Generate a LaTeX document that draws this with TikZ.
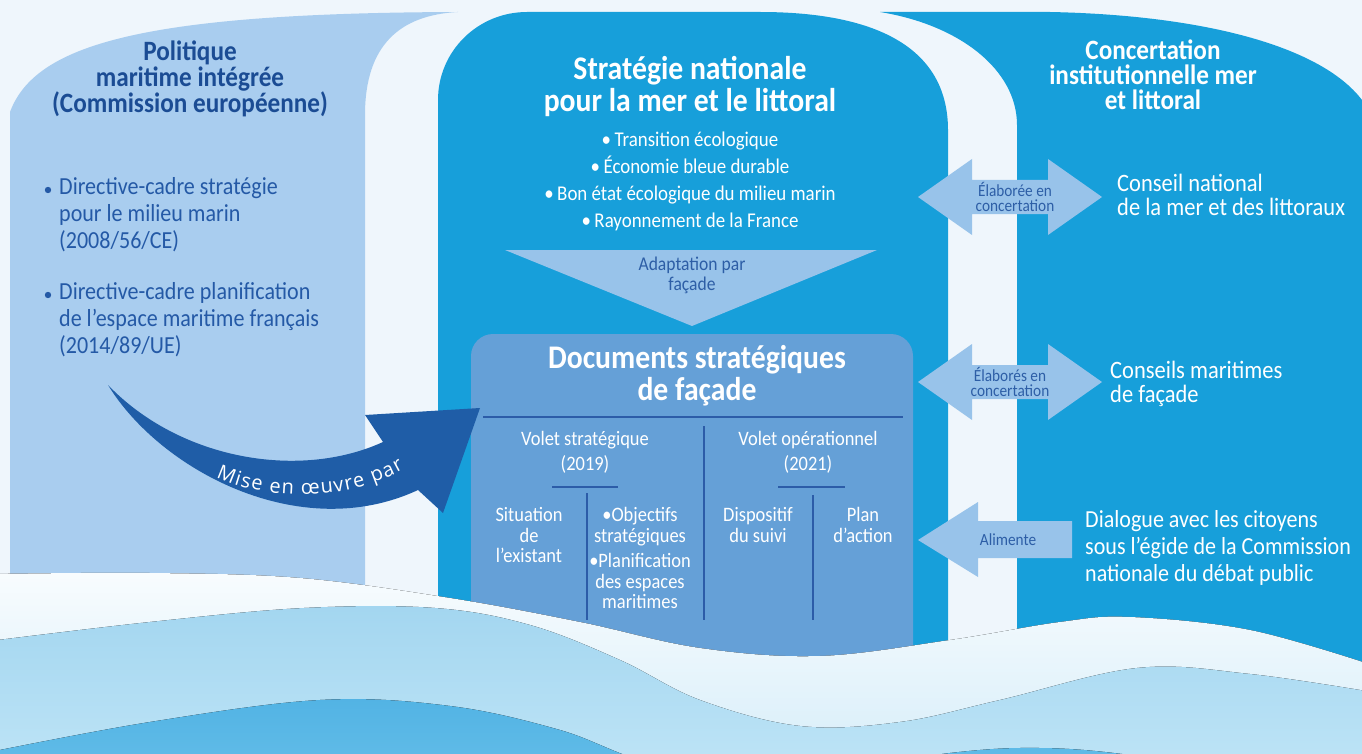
\documentclass[tikz,border=0pt]{standalone}
\usepackage{fontspec}
\setmainfont{Carlito}[FakeStretch=0.9]
\newfontfamily\arcfont{Open Sans}
\usetikzlibrary{decorations.text}
\definecolor{bg}{HTML}{EFF6FC}
\definecolor{leftpanel}{HTML}{A9CDEF}
\definecolor{midpanel}{HTML}{179FDA}
\definecolor{docbox}{HTML}{65A0D7}
\definecolor{lightarrow}{HTML}{98C3EA}
\definecolor{darkarrow}{HTML}{1F5DA7}
\definecolor{darktext}{HTML}{1B4C94}
\definecolor{bullettext}{HTML}{2459A6}
\definecolor{arrowtext}{HTML}{2D5EA6}
\definecolor{linec}{HTML}{2C5CA8}
\definecolor{waveAtop}{HTML}{F8FCFE}
\definecolor{waveAbot}{HTML}{D6EDF9}
\definecolor{waveBtop}{HTML}{A3D6F0}
\definecolor{waveBbot}{HTML}{BEE4F6}
\definecolor{waveCtop}{HTML}{52B3E4}
\definecolor{waveCbot}{HTML}{66BFE9}
\tikzset{
  lefttitle/.style={text=darktext, font=\bfseries\fontsize{28}{26}\selectfont, align=center, inner sep=0pt},
  leftitem/.style={text=bullettext, font=\fontsize{24.5}{27}\selectfont, align=left, inner sep=0pt, anchor=west},
  whitetitle/.style={text=white, font=\bfseries\fontsize{33}{32}\selectfont, align=center, inner sep=0pt},
  righttitle/.style={text=white, font=\bfseries\fontsize{28}{25}\selectfont, align=center, inner sep=0pt},
  midlist/.style={text=white, font=\fontsize{21}{27}\selectfont, align=center, inner sep=0pt},
  rightitem/.style={text=white, font=\fontsize{25}{24}\selectfont, align=left, inner sep=0pt, anchor=west},
  arrowlabel/.style={text=arrowtext, font=\fontsize{17}{15.5}\selectfont, align=center, inner sep=0pt},
  adaptlabel/.style={text=arrowtext, font=\fontsize{19.5}{20}\selectfont, align=center, inner sep=0pt},
  voletlabel/.style={text=white, font=\fontsize{20.5}{25}\selectfont, align=center, inner sep=0pt},
  celllabel/.style={text=white, font=\fontsize{20.5}{20.5}\selectfont, align=center, inner sep=0pt},
  sepline/.style={draw=linec, line width=1.5pt},
  shapefill/.style={fill=lightarrow}
}
\begin{document}
\begin{tikzpicture}[x=1pt,y=-1pt]
\useasboundingbox (0,0) rectangle (1362,754);
\begin{scope}
\clip (0,0) rectangle (1362,754);
\fill[bg] (0,0) rectangle (1362,754);
% left panel
\fill[leftpanel] (10,770) -- (10,112) .. controls (35,45) and (140,13) .. (458,12)
  .. controls (400,15) and (365,45) .. (365,115) -- (365,770) -- cycle;
% middle panel
\fill[midpanel] (438,770) -- (438,100) .. controls (438,51) and (478,12) .. (527,12)
  -- (760,12) .. controls (880,12) and (948,50) .. (948,130) -- (948,770) -- cycle;
% right panel
\fill[midpanel] (880,12) -- (1050,12) .. controls (1200,15) and (1320,45) .. (1362,100)
  -- (1372,100) -- (1372,770) -- (1017,770) -- (1017,125) .. controls (1017,70) and (960,25) .. (880,12) -- cycle;
% documents box
\fill[docbox, rounded corners=22pt] (471,334) rectangle (913,780);
% triangle
\fill[shapefill] (505,250) -- (877,250) -- (692,326) -- cycle;
% double arrows
\fill[shapefill] (918,197) -- (972,159) -- (972,180) -- (1048,180) -- (1048,159) -- (1102,197)
  -- (1048,235) -- (1048,214) -- (972,214) -- (972,235) -- cycle;
\fill[shapefill] (918,382) -- (972,344) -- (972,365) -- (1048,365) -- (1048,344) -- (1102,382)
  -- (1048,420) -- (1048,399) -- (972,399) -- (972,420) -- cycle;
\fill[shapefill] (918,540) -- (978,502) -- (978,521) -- (1072,521) -- (1072,558) -- (978,558) -- (978,577) -- cycle;
% separator lines in documents box
\coordinate (h1a) at (483,417); \coordinate (h1b) at (903,417);
\coordinate (v1a) at (704,426); \coordinate (v1b) at (704,620);
\coordinate (h2a) at (552,487); \coordinate (h2b) at (618,487);
\coordinate (h3a) at (778,487); \coordinate (h3b) at (845,487);
\coordinate (v2a) at (587,493); \coordinate (v2b) at (587,620);
\coordinate (v3a) at (813,495); \coordinate (v3b) at (813,620);
\draw[sepline] (h1a) -- (h1b);
\draw[sepline] (v1a) -- (v1b);
\draw[sepline] (h2a) -- (h2b);
\draw[sepline] (h3a) -- (h3b);
\draw[sepline] (v2a) -- (v2b);
\draw[sepline] (v3a) -- (v3b);
% curved arrow
\fill[darkarrow] (108,385) .. controls (160,470) and (300,545) .. (418,490) -- (443,513) -- (480,408)
  -- (365,415) -- (383,442) .. controls (300,480) and (180,460) .. cycle;
\path[decorate, decoration={text along path, text align={fit to path}, text color=white,
  text={|\arcfont\fontsize{20}{20}\selectfont|Mise en œuvre par}}]
  (216,477) .. controls (262,499) and (342,504) .. (404,469);
% waves
\fill[top color=waveAtop, bottom color=waveAbot] plot[smooth, tension=0.6] coordinates
  {(-10,574) (150,573) (300,578) (450,598) (580,622) (700,648) (820,656) (950,640) (1060,622) (1130,617) (1250,630) (1372,665)}
  -- (1372,770) -- (-10,770) -- cycle;
\fill[top color=waveBtop, bottom color=waveBbot] plot[smooth, tension=0.6] coordinates
  {(-10,641) (150,622) (304,608) (435,608) (530,625) (620,660) (700,700) (800,726) (900,722) (1000,700) (1137,668) (1250,674) (1372,692)}
  -- (1372,770) -- (-10,770) -- cycle;
\fill[top color=waveCtop, bottom color=waveCbot] plot[smooth, tension=0.6] coordinates
  {(-10,752) (150,722) (320,700) (450,706) (560,730) (660,765) (800,775) (950,753) (1040,748) (1130,755) (1250,775)}
  -- (1250,790) -- (-10,790) -- cycle;
\end{scope}
% texts
\node[lefttitle] (pmi) at (190,79) {Politique\\maritime intégrée\\(Commission européenne)};
\fill[bullettext] (48,190) circle (3.2);
\fill[bullettext] (48,295) circle (3.2);
\node[leftitem] (dcsmm) at (59,215) {Directive-cadre stratégie\\pour le milieu marin\\(2008/56/CE)};
\node[leftitem] (dcpem) at (59,320) {Directive-cadre planification\\de l’espace maritime français\\(2014/89/UE)};
\node[whitetitle] (snml) at (690,86) {Stratégie nationale\\pour la mer et le littoral};
\node[midlist] (axes) at (690,181) {•\,Transition écologique\\•\,Économie bleue durable\\•\,Bon état écologique du milieu marin\\•\,Rayonnement de la France};
\node[adaptlabel] (adapt) at (692,275) {Adaptation par\\façade};
\node[righttitle] (cimer) at (1153,75) {Concertation\\institutionnelle mer\\et littoral};
\node[arrowlabel] (elab1) at (1015,197) {Élaborée en\\concertation};
\node[rightitem] (cnml) at (1117,195) {Conseil national\\de la mer et des littoraux};
\node[arrowlabel] (elab2) at (1010,382) {Élaborés en\\concertation};
\node[rightitem] (cmf) at (1110,384) {Conseils maritimes\\de façade};
\node[arrowlabel] (alim) at (1008,540) {Alimente};
\node[rightitem, font=\fontsize{24.5}{27}\selectfont] (dial) at (1085,548) {Dialogue avec les citoyens\\sous l’égide de la Commission\\nationale du débat public};
\node[whitetitle] (dsf) at (697,376) {Documents stratégiques\\de façade};
\node[voletlabel] (vs) at (585,452) {Volet stratégique\\(2019)};
\node[voletlabel] (vo) at (808,452) {Volet opérationnel\\(2021)};
\node[celllabel] (sit) at (529,535) {Situation\\de\\l’existant};
\node[celllabel] (obj) at (640,558) {•Objectifs\\stratégiques\\[5pt]•Planification\\des espaces\\maritimes};
\node[celllabel] (disp) at (758,525) {Dispositif\\du suivi};
\node[celllabel] (plan) at (863,525) {Plan\\d’action};
\end{tikzpicture}
\end{document}
